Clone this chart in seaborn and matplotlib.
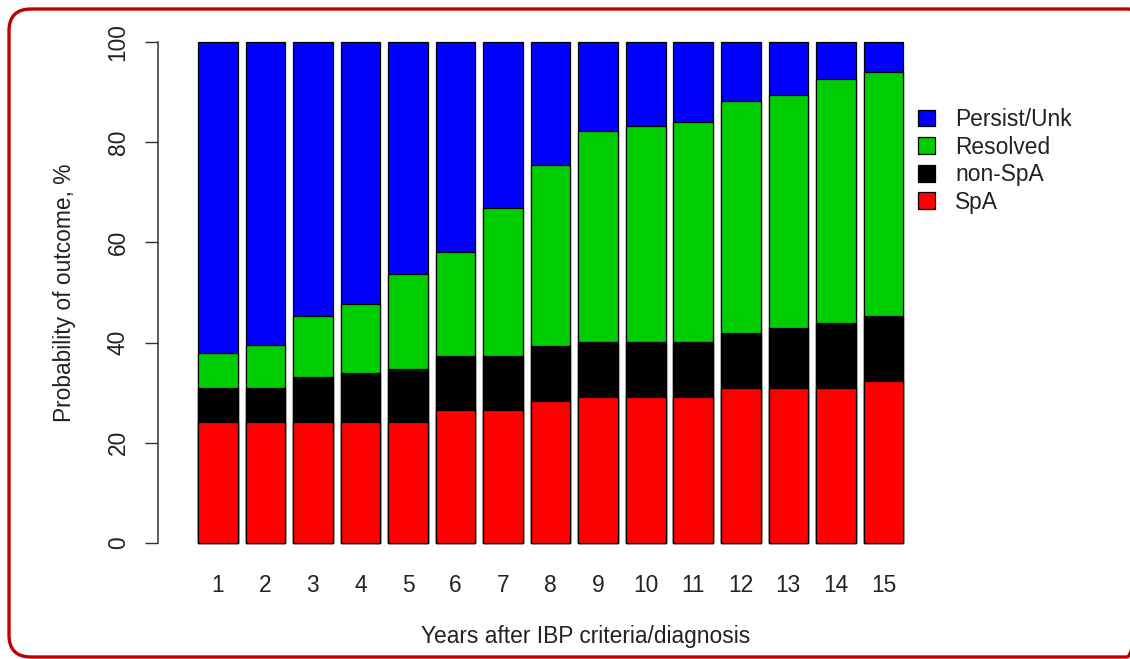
import numpy as np
import pandas as pd
import matplotlib
matplotlib.use("Agg")
import matplotlib.pyplot as plt
from matplotlib.patches import FancyBboxPatch, Patch
import seaborn as sns

# Outcome probabilities (%) by year after IBP criteria/diagnosis
years = [str(y) for y in range(1, 16)]
spa = [24.1, 24.1, 24.1, 24.1, 24.1, 26.6, 26.6, 28.3, 29.2, 29.2, 29.2, 30.9, 30.9, 30.9, 32.4]
non_spa = [6.8, 6.8, 9.0, 9.8, 10.7, 10.8, 10.8, 11.1, 10.9, 10.9, 10.9, 11.1, 12.0, 13.0, 12.9]
resolved = [7.0, 8.7, 12.2, 13.8, 18.9, 20.6, 29.5, 36.0, 42.2, 43.1, 44.0, 46.3, 46.5, 48.7, 48.8]
persist_unk = [62.1, 60.4, 54.7, 52.3, 46.3, 42.0, 33.1, 24.6, 17.7, 16.8, 15.9, 11.7, 10.6, 7.4, 5.9]

series_names = ["SpA", "non-SpA", "Resolved", "Persist/Unk"]
series_colors = ["#FF0000", "#000000", "#00CD00", "#0000FF"]

df = pd.DataFrame({"year": years, "SpA": spa, "non-SpA": non_spa,
                   "Resolved": resolved, "Persist/Unk": persist_unk})
cum = df[series_names].cumsum(axis=1)

sns.set_style("white")
plt.rcParams["font.family"] = ["Liberation Sans", "DejaVu Sans"]
text_color = "#222222"
fs = 16.4

fig = plt.figure(figsize=(11.3, 6.59), dpi=100)

# rounded red frame around the whole figure
bg = fig.add_axes([0, 0, 1, 1], zorder=-5)
bg.set_xlim(0, 1130)
bg.set_ylim(659, 0)
bg.axis("off")
bg.add_patch(FancyBboxPatch((9, 9), 1140, 648,
                            boxstyle="round,pad=0,rounding_size=22",
                            facecolor="none", edgecolor="#C00000", linewidth=2.4))

ax = fig.add_axes([158 / 1130, 1 - 563 / 659, (940 - 158) / 1130, (563 - 22) / 659])
ax.patch.set_alpha(0)

# stacked bars: draw cumulative totals from the top layer down
for name, color in zip(series_names[::-1], series_colors[::-1]):
    sns.barplot(x=df["year"], y=cum[name], order=years, color=color, width=0.833,
                edgecolor="black", linewidth=0.9, saturation=1, ax=ax)

ax.set_ylim(-4, 104)
ax.set_xlim(-1.26, 15.19)
ax.set_yticks([0, 20, 40, 60, 80, 100])
ax.set_yticklabels(["0", "20", "40", "60", "80", "100"], rotation=90, va="center")
for s in ["top", "right", "bottom"]:
    ax.spines[s].set_visible(False)
ax.spines["left"].set_bounds(0, 100)
ax.spines["left"].set_color("#333333")
ax.spines["left"].set_linewidth(1.1)
ax.tick_params(axis="y", left=True, length=9.4, width=1.0, color="#333333", pad=11,
               labelsize=fs, labelcolor=text_color)
ax.tick_params(axis="x", bottom=False, length=0, pad=8, labelsize=fs, labelcolor=text_color)
ax.set_xlabel("Years after IBP criteria/diagnosis", fontsize=fs, color=text_color)
ax.xaxis.set_label_coords((586 - 158) / (940 - 158), (563 - 625) / (563 - 22))
ax.set_ylabel("Probability of outcome, %", fontsize=fs, color=text_color, labelpad=22)

handles = [Patch(facecolor=c, edgecolor="black", linewidth=0.9)
           for c in series_colors[::-1]]
fig.legend(handles, series_names[::-1], loc="upper left",
           bbox_to_anchor=(918 / 1130, 1 - 108 / 659), frameon=False,
           fontsize=fs, handlelength=0.75, handleheight=0.75,
           handletextpad=0.88, labelspacing=0.2, labelcolor=text_color,
           borderaxespad=0, borderpad=0)

fig.savefig("out.png", dpi=100)
